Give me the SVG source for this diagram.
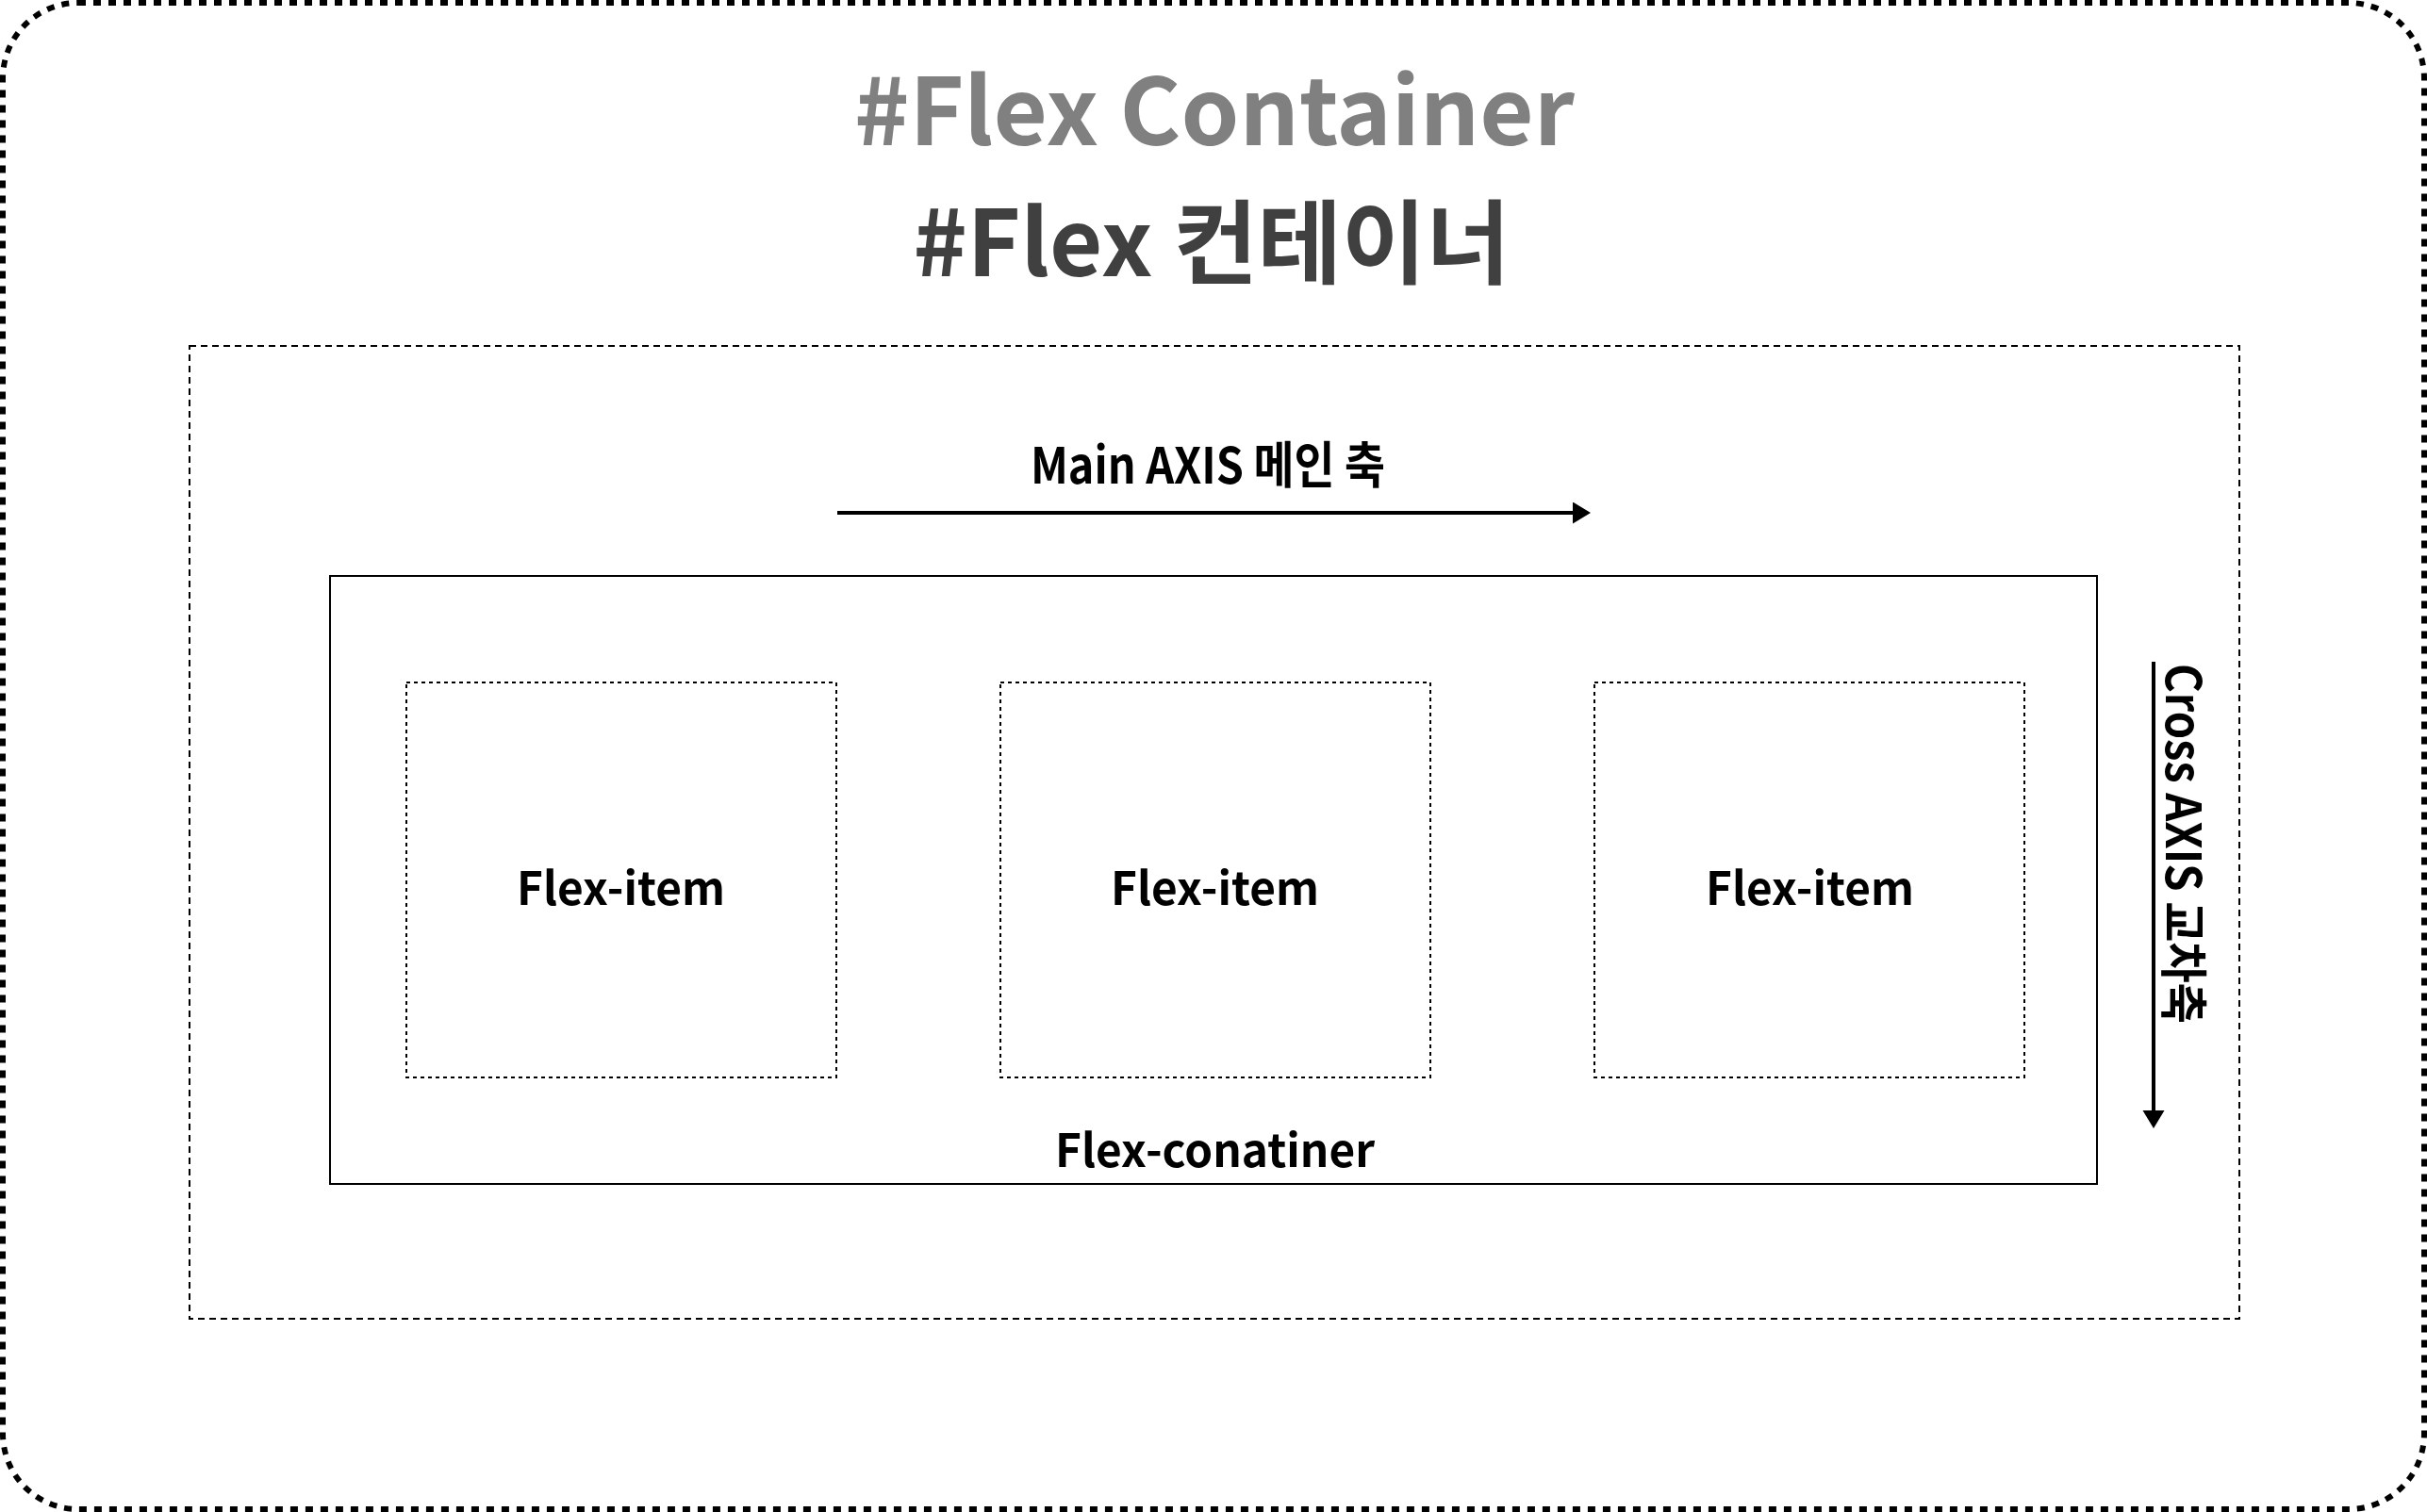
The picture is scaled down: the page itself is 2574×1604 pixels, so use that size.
<svg xmlns="http://www.w3.org/2000/svg" width="2574" height="1604" viewBox="0 0 2574 1604">
  <defs>
    <style>
      text { font-family: "Noto Sans CJK KR", "Noto Sans", sans-serif; font-weight: 700; }
      .title1 { font-size: 98px; fill: #808080; }
      .title2 { font-size: 97px; fill: #404040; }
      .label { font-size: 53px; fill: #000000; }
      .item-text { font-size: 49px; fill: #000000; }
      .frame { fill: #ffffff; stroke: #000000; stroke-width: 6; stroke-dasharray: 8 8; }
      .container { fill: none; stroke: #000000; stroke-width: 2; stroke-dasharray: 7 5; }
      .flexbox { fill: none; stroke: #000000; stroke-width: 2; }
      .item { fill: none; stroke: #000000; stroke-width: 2; stroke-dasharray: 4 4; }
      .axis { fill: none; stroke: #000000; stroke-width: 4; }
    </style>
    <marker id="arrow" markerUnits="userSpaceOnUse" markerWidth="20" markerHeight="24" refX="0" refY="11.5" orient="auto">
      <path d="M0,0 L19,11.5 L0,23 Z" fill="#000000"/>
    </marker>
  </defs>

  <g id="frame">
    <rect class="frame" x="3" y="3" width="2568" height="1598" rx="80" ry="80"/>
  </g>

  <g id="titles">
    <text class="title1" x="906" y="154" textLength="764" lengthAdjust="spacingAndGlyphs">#Flex Container</text>
    <text class="title2" x="1285" y="293" text-anchor="middle">#Flex 컨테이너</text>
  </g>

  <g id="outer-container">
    <rect class="container" x="201" y="367" width="2174" height="1032"/>
  </g>

  <g id="main-axis-label">
    <text class="label" x="1093" y="513" textLength="376" lengthAdjust="spacingAndGlyphs">Main AXIS 메인 축</text>
  </g>

  <g id="cross-axis-label">
    <text class="label" style="font-size:51px" transform="translate(2297,704) rotate(90)" textLength="382" lengthAdjust="spacingAndGlyphs">Cross AXIS 교차축</text>
  </g>

  <g id="flex-container">
    <rect class="flexbox" x="350" y="611" width="1874" height="645"/>
    <text class="item-text" x="1119" y="1238" textLength="339" lengthAdjust="spacingAndGlyphs">Flex-conatiner</text>
  </g>

  <g id="flex-item-1">
    <rect class="item" x="431" y="724" width="456" height="419"/>
    <text class="item-text" x="548" y="960" textLength="221" lengthAdjust="spacingAndGlyphs">Flex-item</text>
  </g>
  <g id="flex-item-2">
    <rect class="item" x="1061" y="724" width="456" height="419"/>
    <text class="item-text" x="1178" y="960" textLength="221" lengthAdjust="spacingAndGlyphs">Flex-item</text>
  </g>
  <g id="flex-item-3">
    <rect class="item" x="1691" y="724" width="456" height="419"/>
    <text class="item-text" x="1809" y="960" textLength="221" lengthAdjust="spacingAndGlyphs">Flex-item</text>
  </g>

  <g id="connectors">
    <line class="axis" x1="888" y1="544" x2="1668" y2="544" marker-end="url(#arrow)"/>
    <line class="axis" x1="2284" y1="702" x2="2284" y2="1178" marker-end="url(#arrow)"/>
  </g>
</svg>
